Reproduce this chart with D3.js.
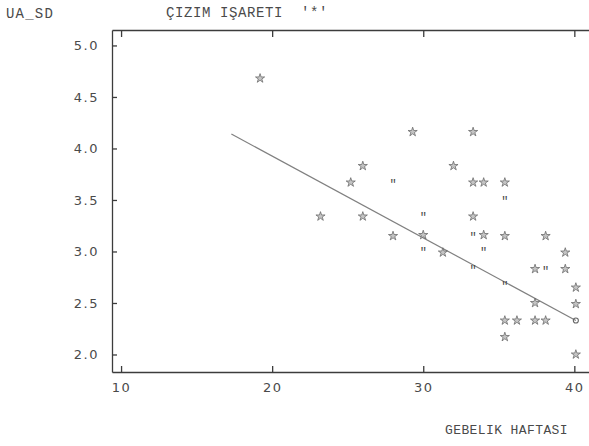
<!DOCTYPE html>
<html>
<head>
<meta charset="utf-8">
<script src="https://cdn.jsdelivr.net/npm/d3@7"></script>
<style>
  body { margin: 0; background: #fff; }
  text { fill: #4a4a4a; }
</style>
</head>
<body>
<svg id="chart" width="589" height="446"></svg>
<script>
// gebelik haftasi (x) ve UA S/D (y), isaret: * tek nokta, " iki nokta, o daire
const weeks = [19.2, 23.2, 25.2, 26.0, 26.0, 28.0, 28.0, 29.3, 30.0, 30.0, 30.0, 31.3,
  32.0, 33.3, 33.3, 34.0, 33.3, 33.3, 34.0, 34.0, 33.3, 35.4, 35.4, 35.4, 35.4, 35.4,
  36.2, 35.4, 37.4, 38.1, 37.4, 37.4, 38.1, 38.1, 39.4, 39.4, 40.1, 40.1, 40.1, 40.1]
const sdRatio = [4.68, 3.34, 3.67, 3.83, 3.34, 3.67, 3.15, 4.16, 3.35, 3.16, 3.01, 2.99,
  3.83, 4.16, 3.67, 3.67, 3.34, 3.16, 3.16, 3.01, 2.84, 3.67, 3.51, 3.15, 2.68, 2.33,
  2.33, 2.17, 2.83, 2.83, 2.50, 2.33, 2.33, 3.15, 2.99, 2.83, 2.65, 2.49, 2.33, 2.00]
const marks = ['*', '*', '*', '*', '*', '"', '*', '*', '"', '*', '"', '*',
  '*', '*', '*', '*', '*', '"', '*', '"', '"', '*', '"', '*', '"', '*',
  '*', '*', '*', '"', '*', '*', '*', '*', '*', '*', '*', '*', 'o', '*']

// regresyon dogrusu uc noktalari
const fitX = [17.3, 40.1]
const fitY = [4.14, 2.33]

const xTicks = [10, 20, 30, 40]
const yTicks = [2.0, 2.5, 3.0, 3.5, 4.0, 4.5, 5.0]

const svg = d3.select('#chart')
const m = {left: 112, top: 30, bottom: 372, right: 597}

const xScale = d3.scaleLinear().domain([9.4, 41.5]).range([m.left, m.right])
const yScale = d3.scaleLinear().domain([1.83, 5.15]).range([m.bottom, m.top])

const ink = '#3c3c3c'
const typewriter = '"Liberation Mono", "DejaVu Sans Mono", monospace'

// eksenler
const yAxis = d3.axisLeft(yScale).tickValues(yTicks).tickFormat(d3.format('.1f'))
  .tickSize(-5).tickSizeOuter(0).tickPadding(13)
const xAxis = d3.axisBottom(xScale).tickValues(xTicks).tickFormat(d3.format('d'))
  .tickSize(-6).tickSizeOuter(0).tickPadding(11)
const topAxis = d3.axisTop(xScale).tickValues(xTicks).tickFormat('')
  .tickSize(-7).tickSizeOuter(0)

const styleAxis = g => {
  g.selectAll('path, line').attr('stroke', ink).attr('stroke-width', 1.3)
  g.selectAll('text').attr('fill', '#6a6a6a')
    .style('font-family', '"DejaVu Sans", sans-serif')
    .style('font-size', '13px').style('letter-spacing', '1.5px')
}

svg.append('g').attr('transform', `translate(${m.left},0)`).call(yAxis).call(styleAxis)
svg.append('g').attr('transform', `translate(0,${m.bottom})`).call(xAxis).call(styleAxis)
svg.append('g').attr('transform', `translate(0,${m.top})`).call(topAxis).call(styleAxis)

// regresyon cizgisi
const line = d3.line().x(d => xScale(d[0])).y(d => yScale(d[1]))
svg.append('path')
  .datum(d3.zip(fitX, fitY))
  .attr('fill', 'none')
  .attr('stroke', '#808080')
  .attr('stroke-width', 1.2)
  .attr('d', line)

// noktalar
const pts = weeks.map((w, i) => ({ x: w, y: sdRatio[i], m: marks[i] }))
const star = d3.symbol(d3.symbolStar).size(26)
const circ = d3.symbol(d3.symbolCircle).size(20)

svg.append('g').selectAll('path')
  .data(pts.filter(d => d.m === '*'))
  .join('path')
  .attr('transform', d => `translate(${xScale(d.x)},${yScale(d.y)})`)
  .attr('d', star)
  .attr('fill', '#c4c4c4')
  .attr('stroke', '#5e5e5e')
  .attr('stroke-width', 0.7)

svg.append('g').selectAll('path')
  .data(pts.filter(d => d.m === 'o'))
  .join('path')
  .attr('transform', d => `translate(${xScale(d.x)},${yScale(d.y)})`)
  .attr('d', circ)
  .attr('fill', 'none')
  .attr('stroke', '#666')
  .attr('stroke-width', 1.1)

svg.append('g').selectAll('text')
  .data(pts.filter(d => d.m === '"'))
  .join('text')
  .attr('x', d => xScale(d.x))
  .attr('y', d => yScale(d.y) + 6)
  .attr('text-anchor', 'middle')
  .style('font-family', typewriter)
  .style('font-size', '12px')
  .attr('fill', '#555')
  .text('"')

// yazilar
svg.append('text').attr('x', 6).attr('y', 18)
  .style('font-family', typewriter).style('font-size', '14px')
  .style('letter-spacing', '1.2px')
  .text('UA_SD')

svg.append('text').attr('x', 166).attr('y', 17)
  .style('font-family', typewriter).style('font-size', '14px')
  .style('letter-spacing', '0.6px').style('white-space', 'pre')
  .text("ÇIZIM IŞARETI  '*'")

svg.append('text').attr('x', 445).attr('y', 434)
  .style('font-family', typewriter).style('font-size', '13px')
  .style('letter-spacing', '0.4px')
  .text('GEBELIK HAFTASI')
</script>
</body>
</html>
